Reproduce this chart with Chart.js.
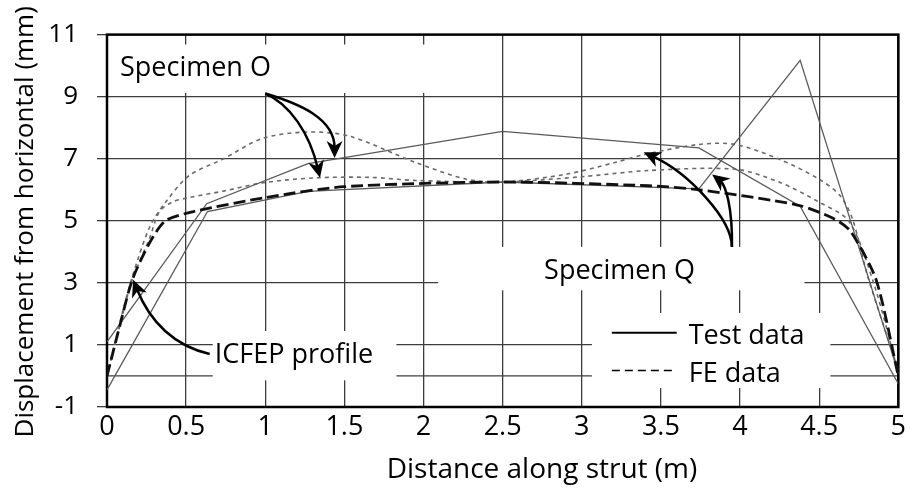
<!DOCTYPE html>
<html>
<head>
<meta charset="utf-8">
<script src="https://cdn.jsdelivr.net/npm/chart.js"></script>
<style>
    body { margin: 0; background: #fff; }
    #chart { display: block; }
</style>
</head>
<body>
<canvas id="chart" width="910" height="495"></canvas>
<script>
const FONT = "'Open Sans', sans-serif";

// Specimen O, test data
const oTestX = [0, 0.63, 1.27, 2.5, 3.74, 4.38, 5];
const oTestY = [1.1, 5.55, 6.84, 7.88, 7.35, 5.47, -0.25];
// Specimen Q, test data
const qTestX = [0, 0.635, 1.27, 2.5, 3.74, 4.38, 5];
const qTestY = [-0.45, 5.3, 5.95, 6.25, 6.03, 10.17, 0.1];
// FE curves
const oFeX = [0, 0.08, 0.16, 0.27, 0.33, 0.41, 0.52, 0.73, 0.98, 1.3, 1.66, 1.95, 2.5, 3.0, 3.42, 3.97, 4.25, 4.5, 4.69, 4.85, 5];
const oFeY = [0, 1.6, 3.1, 4.45, 5.28, 5.6, 5.75, 5.95, 6.22, 6.38, 6.4, 6.3, 6.25, 6.42, 6.62, 6.66, 6.24, 5.6, 4.97, 2.9, 0.1];
const qFeX = [0, 0.08, 0.16, 0.27, 0.37, 0.52, 0.73, 0.98, 1.26, 1.53, 1.95, 2.27, 2.5, 2.9, 3.21, 3.4, 3.74, 3.97, 4.25, 4.5, 4.63, 4.71, 4.81, 5];
const qFeY = [0, 1.7, 3.2, 4.8, 5.6, 6.46, 6.98, 7.65, 7.86, 7.73, 6.88, 6.34, 6.25, 6.5, 6.88, 7.14, 7.46, 7.46, 6.98, 6.34, 5.82, 5.07, 3.16, 0.2];
// ICFEP profile
const icfepX = [0, 0.08, 0.16, 0.27, 0.37, 0.55, 1.0, 1.5, 2.5, 3.42, 3.74, 4.37, 4.6, 4.7, 4.86, 5];
const icfepY = [0, 1.6, 3.1, 4.3, 5.0, 5.3, 5.75, 6.1, 6.25, 6.13, 6.0, 5.5, 5.05, 4.65, 3.1, 0];

const legendLabels = ['Test data', 'FE data'];
const xTitle = 'Distance along strut (m)';
const yTitle = 'Displacement from horizontal (mm)';

function pts(xs, ys) {
    return xs.map((x, i) => ({x: x, y: ys[i]}));
}

// annotation boxes / texts / arrows (in data units)
const boxes = [
    [0.01, 9.12, 2.23, 10.68],
    [0.668, -0.14, 1.829, 1.45],
    [2.093, 2.76, 4.407, 4.16],
    [3.064, -0.39, 4.571, 2.03]
];
const notes = [
    {text: 'Specimen O', x: 0.082, y: 9.66},
    {text: 'ICFEP profile', x: 0.681, y: 0.433},
    {text: 'Specimen Q', x: 2.762, y: 3.14}
];
const arrows = [
    [[1.0, 9.1], [1.217, 8.77], [1.438, 8.3], [1.438, 7.09]],
    [[1.0, 9.1], [1.154, 8.77], [1.28, 7.82], [1.343, 6.45]],
    [[0.649, 0.71], [0.429, 0.95], [0.271, 1.74], [0.17, 3.04]],
    [[3.949, 4.16], [3.947, 5.06], [3.676, 6.54], [3.403, 7.18]],
    [[3.949, 4.16], [3.953, 5.43], [3.909, 6.16], [3.834, 6.45]]
];

const annotPlugin = {
    id: 'annot',
    beforeDatasetsDraw(chart) {
        const {ctx, chartArea, scales} = chart;
        const sx = v => scales.x.getPixelForValue(v);
        const sy = v => scales.y.getPixelForValue(v);
        ctx.save();
        // zero line
        ctx.strokeStyle = '#3c3c3c';
        ctx.lineWidth = 1.3;
        ctx.beginPath();
        ctx.moveTo(chartArea.left, sy(0));
        ctx.lineTo(chartArea.right, sy(0));
        ctx.stroke();
        // white text boxes
        ctx.fillStyle = '#fff';
        boxes.forEach(b => {
            ctx.fillRect(sx(b[0]), sy(b[3]), sx(b[2]) - sx(b[0]), sy(b[1]) - sy(b[3]));
        });
        // frame
        ctx.strokeStyle = '#000';
        ctx.lineWidth = 2.5;
        ctx.strokeRect(chartArea.left, chartArea.top, chartArea.right - chartArea.left, chartArea.bottom - chartArea.top);
        ctx.restore();
    },
    afterDatasetsDraw(chart) {
        const {ctx, chartArea, scales} = chart;
        const sx = v => scales.x.getPixelForValue(v);
        const sy = v => scales.y.getPixelForValue(v);
        ctx.save();
        ctx.fillStyle = '#000';
        ctx.font = '27px ' + FONT;
        ctx.textBaseline = 'alphabetic';
        notes.forEach(n => ctx.fillText(n.text, sx(n.x), sy(n.y)));

        // arrows
        ctx.strokeStyle = '#000';
        ctx.lineWidth = 2.5;
        arrows.forEach(a => {
            const p = a.map(q => [sx(q[0]), sy(q[1])]);
            const ang = Math.atan2(p[3][1] - p[2][1], p[3][0] - p[2][0]);
            ctx.beginPath();
            ctx.moveTo(p[0][0], p[0][1]);
            ctx.bezierCurveTo(p[1][0], p[1][1], p[2][0], p[2][1],
                p[3][0] - 8 * Math.cos(ang), p[3][1] - 8 * Math.sin(ang));
            ctx.stroke();
            ctx.save();
            ctx.translate(p[3][0], p[3][1]);
            ctx.rotate(ang);
            ctx.beginPath();
            ctx.moveTo(2, 0);
            ctx.lineTo(-15, -8);
            ctx.lineTo(-10, 0);
            ctx.lineTo(-15, 8);
            ctx.closePath();
            ctx.fill();
            ctx.restore();
        });

        // legend
        const lx0 = sx(3.19), lx1 = sx(3.6), tx = sx(3.676);
        ctx.lineWidth = 2;
        ctx.beginPath();
        ctx.moveTo(lx0, sy(1.39));
        ctx.lineTo(lx1, sy(1.39));
        ctx.stroke();
        ctx.lineWidth = 1.5;
        ctx.setLineDash([8, 5]);
        ctx.beginPath();
        ctx.moveTo(lx0, sy(0.18));
        ctx.lineTo(lx1, sy(0.18));
        ctx.stroke();
        ctx.setLineDash([]);
        ctx.fillText(legendLabels[0], tx, sy(1.038));
        ctx.fillText(legendLabels[1], tx, sy(-0.203));

        // axis titles
        ctx.font = '28px ' + FONT;
        ctx.textAlign = 'center';
        ctx.fillText(xTitle, 542, 478);
        ctx.font = '26px ' + FONT;
        ctx.translate(33, (chartArea.top + chartArea.bottom) / 2 + 1);
        ctx.rotate(-Math.PI / 2);
        ctx.fillText(yTitle, 0, 0);
        ctx.restore();
    }
};

const testStyle = {borderColor: '#5a5a5a', borderWidth: 1.3, pointRadius: 0, showLine: true, fill: false};
const feStyle = {borderColor: '#6a6a6a', borderWidth: 1.6, borderDash: [4, 4], pointRadius: 0, showLine: true, fill: false, tension: 0.3};

new Chart(document.getElementById('chart'), {
    type: 'scatter',
    data: {
        datasets: [
            {label: 'ICFEP profile', data: pts(icfepX, icfepY), borderColor: '#111', borderWidth: 2.8,
                borderDash: [12, 5], pointRadius: 0, showLine: true, fill: false, tension: 0.25},
            Object.assign({label: 'Specimen O test', data: pts(oTestX, oTestY)}, testStyle),
            Object.assign({label: 'Specimen Q test', data: pts(qTestX, qTestY)}, testStyle),
            Object.assign({label: 'Specimen O FE', data: pts(oFeX, oFeY)}, feStyle),
            Object.assign({label: 'Specimen Q FE', data: pts(qFeX, qFeY)}, feStyle)
        ]
    },
    options: {
        responsive: false,
        animation: false,
        layout: {padding: {top: 30, right: 10, left: 0, bottom: 0}},
        plugins: {legend: {display: false}, tooltip: {enabled: false}},
        scales: {
            x: {
                type: 'linear', min: 0, max: 5,
                afterFit(s) { s.height = 88; },
                ticks: {stepSize: 0.5, color: '#000', padding: 4, font: {family: FONT, size: 27},
                    callback: v => String(v)},
                grid: {color: '#3c3c3c', lineWidth: 1.3, drawTicks: false},
                border: {display: false}
            },
            y: {
                min: -1, max: 11,
                afterFit(s) { s.width = 107; },
                ticks: {stepSize: 2, color: '#000', padding: 19, font: {family: FONT, size: 26},
                    callback: v => String(v)},
                grid: {color: '#3c3c3c', lineWidth: 1.3, tickLength: 10},
                border: {display: false}
            }
        }
    },
    plugins: [annotPlugin]
});
</script>
</body>
</html>
